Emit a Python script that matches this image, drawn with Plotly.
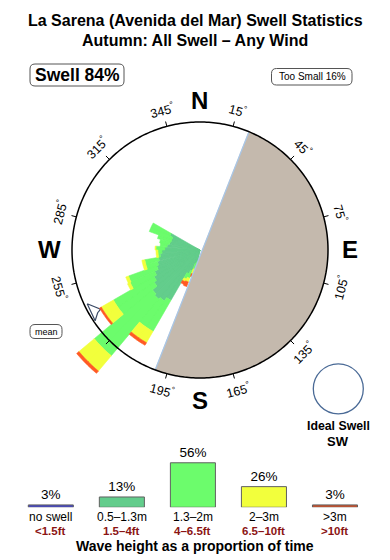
import numpy as np
import plotly.graph_objects as go

# ---------------- data ----------------
title_1 = "La Sarena (Avenida del Mar) Swell Statistics"
title_2 = "Autumn: All Swell \u2013 Any Wind"
swell_pct = 84
too_small_pct = 16

# rose: 5-degree direction bins, radial length of each height class (chart units, ring = 128)
bin_start = [190, 195, 200, 205, 210, 215, 220, 225, 230, 235, 240,
             245, 250, 255, 260, 265, 270, 275, 280, 285, 290, 295]
bin_width = 5
h_05_13 = [12, 14, 22, 26, 58, 62, 64, 62, 56, 53, 50, 46, 44, 42, 40, 38, 35, 33, 31, 30, 30, 33]
h_13_2 = [6, 6, 8, 6, 36, 32, 74, 76, 44, 47, 27, 30, 12, 14, 2, 4, 9, 7, 10, 14, 24, 21]
h_2_3 = [4, 5, 4, 3, 13, 13, 20, 20, 14, 14, 3, 3, 3, 3, 2, 2, 1, 0, 0, 0, 0, 0]
h_3p = [4, 3, 5, 3, 3, 3, 3, 3, 2, 2, 0, 0, 0, 0, 0, 0, 0, 0, 0, 0, 0, 0]

land_from, land_to = 22.5, 200.5
mean_dir = 240

tick_angles = list(range(15, 360, 30))
tick_label_angles = [15, 45, 75, 105, 135, 165, 195, 255, 285, 315, 345]
compass = [("N", 0), ("E", 90), ("S", 180), ("W", 270)]

# legend bars
cls_names = ["no swell", "0.5\u20131.3m", "1.3\u20132m", "2\u20133m", ">3m"]
cls_feet = ["<1.5ft", "1.5\u20134ft", "4\u20136.5ft", "6.5\u201310ft", ">10ft"]
cls_pct = [3, 13, 56, 26, 3]
cls_colors = ["#4646c8", "#63cd8c", "#6cfc6c", "#f2ff3c", "#d0502a"]
rose_colors = ["#63cd8c", "#6cfc6c", "#f2ff3c", "#ff5a24"]

# ---------------- geometry ----------------
W, H = 390, 560
CX, CY = 200, 250
RING = 128
RMAX = 165
FONT = "Liberation Sans, Arial, Helvetica, sans-serif"


def px(x):
    return x / W


def py(y):
    return 1 - y / H


fig = go.Figure()

# mean arrow (under bars)
ar = [125, 115.7, 120, 126.5, 125]
at = [mean_dir + 4.5, mean_dir - 0.8, mean_dir - 1.5, mean_dir - 4, mean_dir + 4.5]
fig.add_trace(go.Scatterpolar(r=ar, theta=at, mode="lines", fill="toself",
                              fillcolor="white", line=dict(color="#3a4a66", width=1.2),
                              hoverinfo="skip"))

# rose wedges
layers = [h_05_13, h_13_2, h_2_3, h_3p]
cum = np.cumsum(np.array(layers, dtype=float), axis=0)
for k in range(4):
    rr, tt = [], []
    for i, b in enumerate(bin_start):
        r_in = cum[k - 1][i] if k > 0 else 0.0
        r_out = cum[k][i]
        if r_out - r_in <= 0:
            continue
        th = np.linspace(b, b + bin_width, 8)
        if r_in <= 0:
            r_poly = [r_out] * len(th) + [0, r_out]
            t_poly = list(th) + [b + bin_width / 2, th[0]]
        else:
            r_poly = [r_out] * len(th) + [r_in] * len(th) + [r_out]
            t_poly = list(th) + list(th[::-1]) + [th[0]]
        rr += r_poly + [None]
        tt += t_poly + [None]
    fig.add_trace(go.Scatterpolar(r=rr, theta=tt, mode="lines", fill="toself",
                                  fillcolor=rose_colors[k],
                                  line=dict(color=rose_colors[k], width=0.6),
                                  hoverinfo="skip"))

# land sector
lt = list(np.linspace(land_from, land_to, 200))
fig.add_trace(go.Scatterpolar(r=[RING] * len(lt) + [RING], theta=lt + [land_from], mode="lines",
                              fill="toself", fillcolor="#c4b9ad",
                              line=dict(color="#c4b9ad", width=0.5), hoverinfo="skip"))
fig.add_trace(go.Scatterpolar(r=[RING, RING], theta=[land_from, land_to], mode="lines",
                              line=dict(color="#a9c6e6", width=1.3), hoverinfo="skip"))

# ring
rt = list(np.linspace(0, 360, 361))
fig.add_trace(go.Scatterpolar(r=[RING] * len(rt), theta=rt, mode="lines",
                              line=dict(color="black", width=1.5), hoverinfo="skip"))
# ticks
tr, tth = [], []
for a in tick_angles:
    tr += [RING, RING + 5, None]
    tth += [a, a, None]
fig.add_trace(go.Scatterpolar(r=tr, theta=tth, mode="lines",
                              line=dict(color="black", width=1), hoverinfo="skip"))

fig.update_layout(
    polar=dict(
        domain=dict(x=[px(CX - RMAX), px(CX + RMAX)], y=[py(CY + RMAX), py(CY - RMAX)]),
        bgcolor="rgba(0,0,0,0)",
        radialaxis=dict(range=[0, RMAX], visible=False, showgrid=False),
        angularaxis=dict(rotation=90, direction="clockwise", visible=False, showgrid=False),
    )
)

# legend bars
fig.add_trace(go.Bar(x=list(range(5)), y=cls_pct, marker=dict(color=cls_colors, line=dict(color="#606060", width=1)),
                     text=[f"{v}%" for v in cls_pct], textposition="outside", constraintext="none",
                     textfont=dict(family=FONT, size=13.5, color="black"), cliponaxis=False,
                     xaxis="x", yaxis="y", hoverinfo="skip"))

fig.update_layout(
    xaxis=dict(domain=[px(15.3), px(370.5)], range=[-0.5, 4.5], visible=False, fixedrange=True),
    yaxis=dict(domain=[py(507.3), py(507.3 - 0.795 * 70)], range=[0, 70], visible=False, fixedrange=True),
    bargap=0.366,
)

ann = []
# titles
ann.append(dict(x=0.5, y=py(21), text=f"<b>{title_1}</b>", font=dict(size=16)))
ann.append(dict(x=0.5, y=py(41), text=f"<b>{title_2}</b>", font=dict(size=16)))
ann.append(dict(x=px(77), y=py(75.5), text=f"<b>Swell {swell_pct}%</b>", font=dict(size=17.5)))
ann.append(dict(x=px(312), y=py(77), text=f"Too Small {too_small_pct}%", font=dict(size=10)))
ann.append(dict(x=px(46), y=py(331.5), text="mean", font=dict(size=9)))
ann.append(dict(x=px(338), y=py(426), text="<b>Ideal Swell</b>", font=dict(size=12.3)))
ann.append(dict(x=px(338), y=py(441.5), text="<b>SW</b>", font=dict(size=13)))
ann.append(dict(x=0.5, y=py(545.5), text="<b>Wave height as a proportion of time</b>", font=dict(size=14)))

# degree labels
for a in tick_label_angles:
    rad = np.deg2rad(a)
    x = CX + 145 * np.sin(rad)
    y = CY - 145 * np.cos(rad)
    if a <= 90:
        ang = a
    elif a < 270:
        ang = a - 180
    else:
        ang = a - 360
    ann.append(dict(x=px(x), y=py(y), text=f"{a}<sup>\u00b0</sup>", textangle=ang,
                    font=dict(size=12.5)))
for lab, a in compass:
    rad = np.deg2rad(a)
    x = CX + 150 * np.sin(rad)
    y = CY - 150 * np.cos(rad)
    ann.append(dict(x=px(x), y=py(y), text=f"<b>{lab}</b>", font=dict(size=24)))

# legend labels
for i in range(5):
    ann.append(dict(x=i, xref="x", y=py(517), text=cls_names[i], font=dict(size=12)))
    ann.append(dict(x=i, xref="x", y=py(531), text=f"<b>{cls_feet[i].replace('<', '&lt;').replace('>', '&gt;')}</b>",
                    font=dict(size=11.5, color="#8b1414")))

for a in ann:
    a.setdefault("xref", "paper")
    a.setdefault("yref", "paper")
    a.update(showarrow=False, xanchor="center", yanchor="middle", borderpad=0)
    a["font"] = dict(family=FONT, color=a["font"].get("color", "black"), size=a["font"]["size"])
fig.update_layout(annotations=ann)


def rrect(x0, y0, x1, y1, r=4):
    rx, ry = r / W, r / H
    X0, X1 = px(x0), px(x1)
    Y0, Y1 = py(y0), py(y1)  # Y0 top (bigger), Y1 bottom
    return (f"M {X0+rx},{Y0} L {X1-rx},{Y0} Q {X1},{Y0} {X1},{Y0-ry} "
            f"L {X1},{Y1+ry} Q {X1},{Y1} {X1-rx},{Y1} L {X0+rx},{Y1} "
            f"Q {X0},{Y1} {X0},{Y1+ry} L {X0},{Y0-ry} Q {X0},{Y0} {X0+rx},{Y0} Z")


shapes = [
    dict(type="path", path=rrect(30, 64, 124, 86, 5), line=dict(color="#555555", width=1)),
    dict(type="path", path=rrect(271.5, 68.5, 352, 85, 5), line=dict(color="#555555", width=1)),
    dict(type="path", path=rrect(30, 324.5, 62, 338.5, 5), line=dict(color="#555555", width=1)),
    dict(type="circle", x0=px(313.3), x1=px(363.3), y0=py(363.8), y1=py(413.8),
         line=dict(color="#4a6a96", width=1.3)),
]
for s in shapes:
    s.update(xref="paper", yref="paper")
fig.update_layout(shapes=shapes)

fig.update_layout(width=W, height=H, margin=dict(l=0, r=0, t=0, b=0),
                  paper_bgcolor="white", plot_bgcolor="white", showlegend=False)
fig.write_html("out.html")
